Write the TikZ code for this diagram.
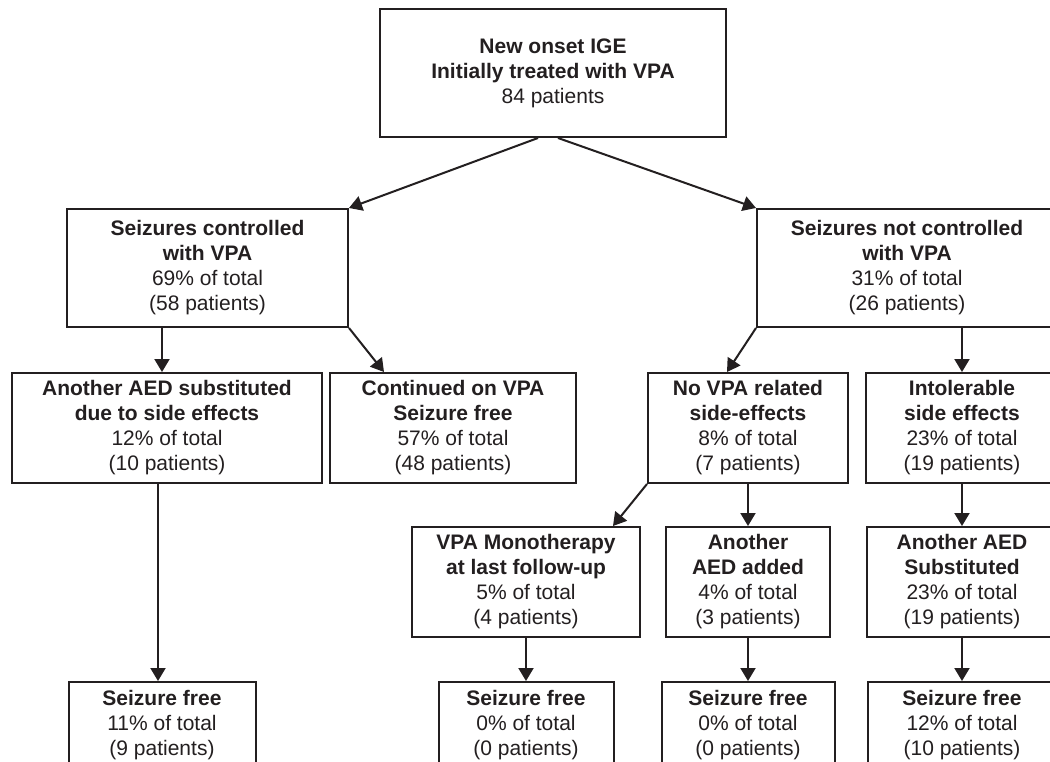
\documentclass[tikz,border=0pt]{standalone}
\usepackage{fontspec}
\setmainfont{Liberation Sans}
\usetikzlibrary{arrows.meta}
\definecolor{ink}{RGB}{35,31,32}
\begin{document}
\begin{tikzpicture}[x=1pt,y=-1pt,
  box/.style={draw=ink, line width=2pt, inner sep=0pt, align=center, text=ink,
    font=\fontsize{21}{25}\selectfont},
  arr/.style={draw=ink, line width=2pt, -{Triangle[length=13pt,width=15pt]}}]
\useasboundingbox[fill=white] (0,0) rectangle (1050,762);
% row 0
\node[box, minimum width=346pt, minimum height=128pt] (top) at (553,73)
  {\textbf{New onset IGE}\\\textbf{Initially treated with VPA}\\84 patients};
% row 1
\node[box, minimum width=281pt, minimum height=118pt] (ctrl) at (207.5,268)
  {\textbf{Seizures controlled}\\\textbf{with VPA}\\69\% of total\\(58 patients)};
\node[box, minimum width=300pt, minimum height=118pt] (nc) at (907,268)
  {\textbf{Seizures not controlled}\\\textbf{with VPA}\\31\% of total\\(26 patients)};
% row 2
\node[box, minimum width=310pt, minimum height=110pt] (sub) at (167,428)
  {\textbf{Another AED substituted}\\\textbf{due to side effects}\\12\% of total\\(10 patients)};
\node[box, minimum width=246pt, minimum height=110pt] (cont) at (453,428)
  {\textbf{Continued on VPA}\\\textbf{Seizure free}\\57\% of total\\(48 patients)};
\node[box, minimum width=200pt, minimum height=110pt] (novpa) at (748,428)
  {\textbf{No VPA related}\\\textbf{side-effects}\\8\% of total\\(7 patients)};
\node[box, minimum width=192pt, minimum height=110pt] (intol) at (962,428)
  {\textbf{Intolerable}\\\textbf{side effects}\\23\% of total\\(19 patients)};
% row 3
\node[box, minimum width=228pt, minimum height=110pt] (mono) at (526,582)
  {\textbf{VPA Monotherapy}\\\textbf{at last follow-up}\\5\% of total\\(4 patients)};
\node[box, minimum width=164pt, minimum height=110pt] (added) at (748,582)
  {\textbf{Another}\\\textbf{AED added}\\4\% of total\\(3 patients)};
\node[box, minimum width=190pt, minimum height=110pt] (subst) at (962,582)
  {\textbf{Another AED}\\\textbf{Substituted}\\23\% of total\\(19 patients)};
% row 4
\node[box, minimum width=187pt, minimum height=86pt] (sf1) at (162,725)
  {\textbf{Seizure free}\\11\% of total\\(9 patients)};
\node[box, minimum width=175pt, minimum height=86pt] (sf2) at (526,725)
  {\textbf{Seizure free}\\0\% of total\\(0 patients)};
\node[box, minimum width=173pt, minimum height=86pt] (sf3) at (748,725)
  {\textbf{Seizure free}\\0\% of total\\(0 patients)};
\node[box, minimum width=188pt, minimum height=86pt] (sf4) at (962,725)
  {\textbf{Seizure free}\\12\% of total\\(10 patients)};
% connectors
\draw[arr] ([xshift=-15pt]top.south) -- (ctrl.north east);
\draw[arr] ([xshift=5pt]top.south) -- (nc.north west);
\draw[arr] ([xshift=-45.5pt]ctrl.south) -- ([xshift=-5pt]sub.north);
\draw[arr] (ctrl.south east) -- ([xshift=-69pt]cont.north);
\draw[arr] (nc.south west) -- ([xshift=-21pt]novpa.north);
\draw[arr] (nc.south -| intol.north) -- (intol.north);
\draw[arr] (novpa.south west) -- ([xshift=87pt]mono.north);
\draw[arr] (novpa.south) -- (added.north);
\draw[arr] (intol.south) -- (subst.north);
\draw[arr] (sub.south -| 158,0) -- (sf1.north -| 158,0);
\draw[arr] (mono.south) -- (sf2.north);
\draw[arr] (added.south) -- (sf3.north);
\draw[arr] (subst.south) -- (sf4.north);
\end{tikzpicture}
\end{document}
